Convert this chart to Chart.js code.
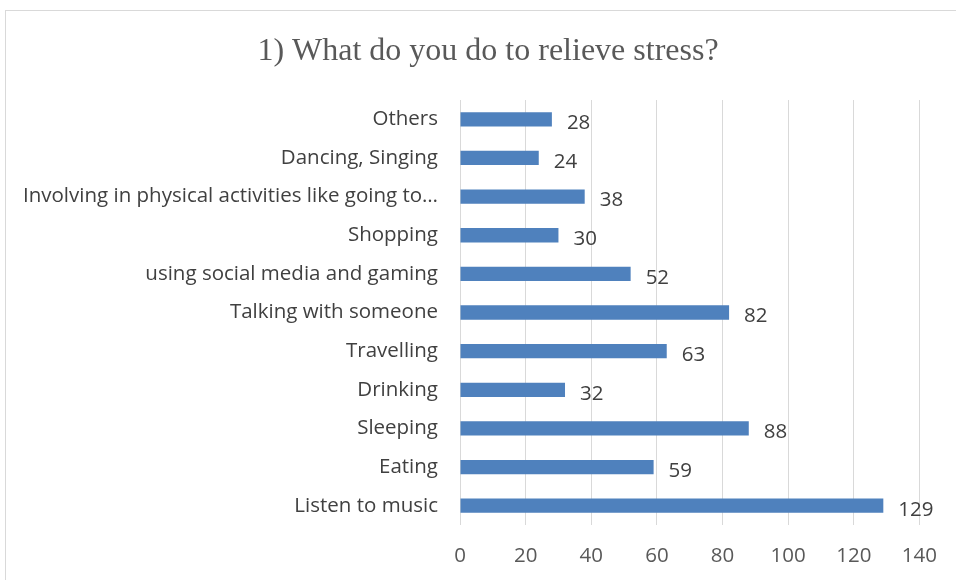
<!DOCTYPE html>
<html>
<head>
<meta charset="utf-8">
<title>Stress relief survey</title>
<script src="https://cdn.jsdelivr.net/npm/chart.js@4"></script>
<style>
  html, body { margin: 0; padding: 0; background: #fff; }
  #wrap { width: 956px; height: 580px; position: relative; }
</style>
</head>
<body>
<div id="wrap"><canvas id="stressChart" width="956" height="580"></canvas></div>
<script>
const activities = [
  "Others",
  "Dancing, Singing",
  "Involving in physical activities like going to…",
  "Shopping",
  "using social media and gaming",
  "Talking with someone",
  "Travelling",
  "Drinking",
  "Sleeping",
  "Eating",
  "Listen to music"
];
const responses = [28, 24, 38, 30, 52, 82, 63, 32, 88, 59, 129];
const xTicks = [0, 20, 40, 60, 80, 100, 120, 140];
const chartTitle = "1) What do you do to relieve stress?";

const labelFont = "'Open Sans', 'Noto Sans', sans-serif";

// outer frame + heading (heading sits a bit right of the canvas centre)
const framePlugin = {
  id: "frame",
  beforeDraw(chart) {
    const ctx = chart.ctx;
    ctx.save();
    ctx.strokeStyle = "#d9d9d9";
    ctx.lineWidth = 1;
    ctx.strokeRect(5.5, 10.5, 1200, 1200);
    ctx.font = "32px 'Liberation Serif', 'Times New Roman', serif";
    ctx.fillStyle = "#595959";
    ctx.textAlign = "center";
    ctx.textBaseline = "middle";
    ctx.fillText(chartTitle, 488, 52);
    ctx.restore();
  }
};

// value labels at the end of each bar
const valueLabels = {
  id: "valueLabels",
  afterDatasetsDraw(chart) {
    const ctx = chart.ctx;
    const meta = chart.getDatasetMeta(0);
    ctx.save();
    ctx.font = "20.5px " + labelFont;
    ctx.fillStyle = "#404040";
    ctx.textAlign = "left";
    ctx.textBaseline = "middle";
    meta.data.forEach((bar, i) => {
      ctx.fillText(String(responses[i]), bar.x + 15, bar.y + 4);
    });
    ctx.restore();
  }
};

new Chart(document.getElementById("stressChart"), {
  type: "bar",
  data: {
    labels: activities,
    datasets: [{
      data: responses,
      backgroundColor: "#4f81bd",
      categoryPercentage: 1,
      barPercentage: 0.37
    }]
  },
  options: {
    indexAxis: "y",
    responsive: false,
    animation: false,
    layout: { padding: { left: 5, right: 35, top: 100, bottom: 0 } },
    plugins: {
      legend: { display: false },
      tooltip: { enabled: false },
      title: { display: false }
    },
    scales: {
      x: {
        min: 0,
        max: 140,
        afterBuildTicks(axis) {
          axis.ticks = xTicks.map(v => ({ value: v }));
        },
        afterFit(axis) { axis.height = 55; },
        grid: { color: "#d9d9d9", drawTicks: false },
        border: { display: false },
        ticks: { color: "#595959", padding: 19, font: { family: labelFont, size: 20.5 } }
      },
      y: {
        afterFit(axis) { axis.width = 455; },
        grid: { display: false, drawTicks: false },
        border: { display: false },
        ticks: { color: "#404040", padding: 22, font: { family: labelFont, size: 20.5 } }
      }
    }
  },
  plugins: [framePlugin, valueLabels]
});
</script>
</body>
</html>
